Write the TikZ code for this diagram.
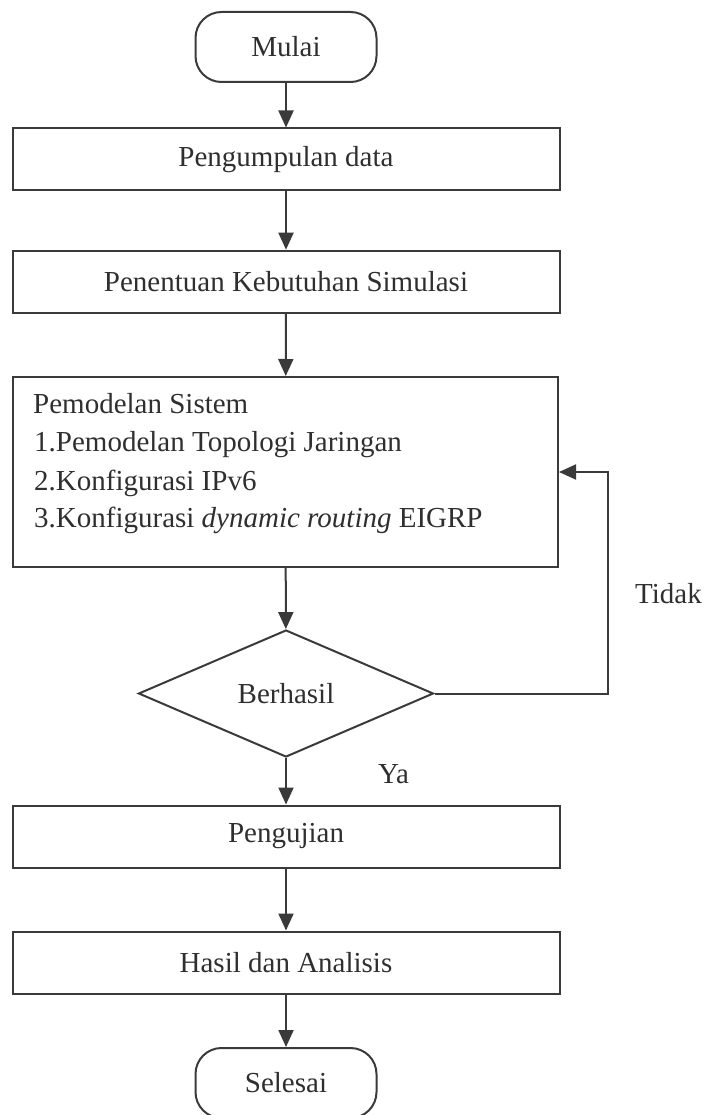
\documentclass[tikz,border=0pt]{standalone}
\usepackage{fontspec}
\setmainfont{Liberation Serif}
\usetikzlibrary{shapes.geometric,arrows.meta}
\definecolor{ink}{HTML}{3A3A3A}
\definecolor{txt}{HTML}{2F2F2F}
\tikzset{
  base/.style={draw=ink, line width=2pt, text=txt, inner sep=0pt,
    font=\fontsize{29}{34}\selectfont},
  term/.style={base, rounded corners=26pt, minimum width=181pt, minimum height=70pt},
  proc/.style={base, minimum width=547pt, minimum height=62pt},
  bigproc/.style={base, minimum width=545pt, minimum height=190pt},
  decision/.style={base, diamond, minimum width=295pt, minimum height=127pt},
  label/.style={text=txt, inner sep=0pt, font=\fontsize{29}{34}\selectfont, anchor=base west},
  arr/.style={draw=ink, line width=2pt, -{Triangle[width=15pt,length=17pt]}}
}
\begin{document}
\begin{tikzpicture}[x=1pt,y=-1pt]
  \useasboundingbox (0,0) rectangle (705,1115);

  % flow steps
  \node[term] (start) at (286,47) {Mulai};
  \node[proc] (collect) at (286,159.5) {Pengumpulan data};
  \node[proc] (needs) at (286,281.7) {Penentuan Kebutuhan Simulasi};
  \node[bigproc] (model) at (285.5,472) {};
  \node[label] (m0) at (33,413) {Pemodelan Sistem};
  \node[label] (m1) at (34,451) {1.Pemodelan Topologi Jaringan};
  \node[label] (m2) at (34,490) {2.Konfigurasi IPv6};
  \node[label] (m3) at (34,527) {3.Konfigurasi \textit{dynamic routing} EIGRP};
  \node[decision] (check) at (286,693.5) {Berhasil};
  \node[proc] (test) at (286,836.5) {Pengujian};
  \node[proc] (result) at (286,962.5) {Hasil dan Analisis};
  \node[term] (stop) at (286,1083) {Selesai};

  % branch labels
  \node[label] (no) at (635,603) {Tidak};
  \node[label] (yes) at (378,783) {Ya};

  % connectors
  \draw[arr] (start) -- (collect);
  \draw[arr] (collect) -- (needs);
  \draw[arr] (needs) -- (model);
  \draw[arr] (model) -- (check);
  \draw[arr] (check) -- (test);
  \draw[arr] (test) -- (result);
  \draw[arr] (result) -- (stop);

  % retry loop back to the modelling step
  \coordinate (loopcorner) at (608,693.5);
  \draw[arr] (check.east) -- (loopcorner) |- (model.east);
\end{tikzpicture}
\end{document}
